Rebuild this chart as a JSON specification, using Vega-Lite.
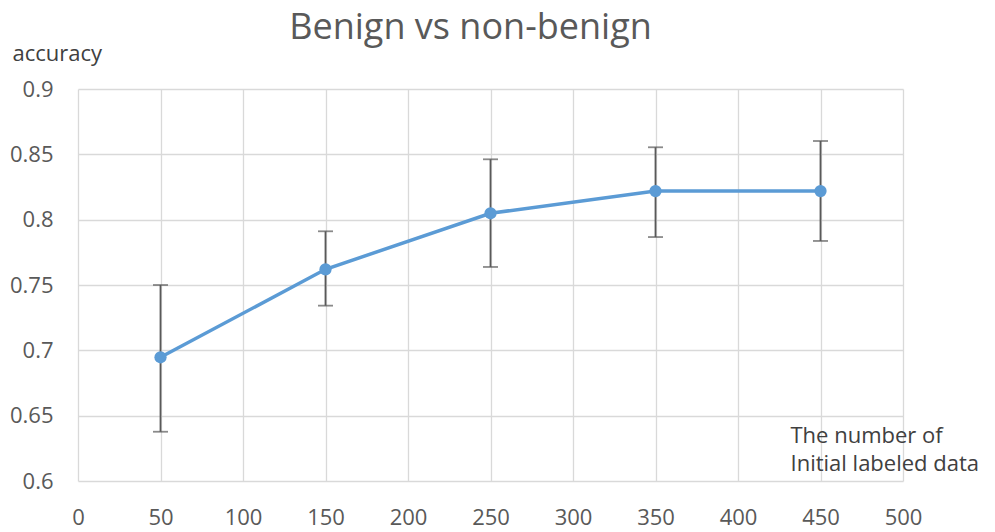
{
  "$schema": "https://vega.github.io/schema/vega-lite/v6.json",
  "width": 825,
  "height": 392,
  "autosize": {"type": "none"},
  "padding": {"left": 78, "top": 89, "right": 92, "bottom": 51},
  "background": "#ffffff",
  "config": {
    "view": {"stroke": null},
    "font": "Open Sans"
  },
  "title": {
    "text": "Benign vs non-benign",
    "anchor": "middle",
    "frame": "group",
    "dx": -20,
    "offset": -33,
    "baseline": "alphabetic",
    "fontSize": 36,
    "fontWeight": "normal",
    "color": "#595959",
    "font": "Open Sans"
  },
  "data": {
    "values": [
      {"n": 50, "acc": 0.6947, "lo": 0.6377, "hi": 0.7500},
      {"n": 150, "acc": 0.7620, "lo": 0.7342, "hi": 0.7911},
      {"n": 250, "acc": 0.8049, "lo": 0.7638, "hi": 0.8462},
      {"n": 350, "acc": 0.8219, "lo": 0.7867, "hi": 0.8554},
      {"n": 450, "acc": 0.8219, "lo": 0.7837, "hi": 0.8602}
    ]
  },
  "encoding": {
    "x": {
      "field": "n",
      "type": "quantitative",
      "scale": {"domain": [0, 500], "nice": false, "zero": false},
      "axis": {
        "values": [0, 50, 100, 150, 200, 250, 300, 350, 400, 450, 500],
        "domain": false,
        "ticks": false,
        "grid": true,
        "gridColor": "#d9d9d9",
        "gridWidth": 1.3,
        "labelFontSize": 22,
        "labelColor": "#595959",
        "labelBaseline": "alphabetic",
        "labelPadding": 43,
        "labelFlush": false,
        "labelOverlap": false,
        "labelFont": "Open Sans",
        "title": ["The number of", "Initial labeled data"],
        "titleFont": "Open Sans",
        "titleFontSize": 22,
        "titleFontWeight": "normal",
        "titleColor": "#404040",
        "titleAnchor": "start",
        "titleAlign": "left",
        "titleBaseline": "alphabetic",
        "titleX": 712,
        "titleY": -39,
        "titleLineHeight": 28.5
      }
    }
  },
  "layer": [
    {
      "mark": {"type": "rule", "color": "#595959", "strokeWidth": 1.8},
      "encoding": {
        "y": {
          "field": "lo",
          "type": "quantitative",
          "scale": {"domain": [0.6, 0.9], "nice": false, "zero": false},
          "axis": {
            "values": [0.6, 0.65, 0.7, 0.75, 0.8, 0.85, 0.9],
            "format": "~g",
            "domain": false,
            "ticks": false,
            "grid": true,
            "gridColor": "#d9d9d9",
            "gridWidth": 1.3,
            "labelFontSize": 22,
            "labelColor": "#595959",
            "labelPadding": 25,
            "labelFlush": false,
            "labelOverlap": false,
            "labelFont": "Open Sans",
            "title": "accuracy",
            "titleFont": "Open Sans",
            "titleFontSize": 22,
            "titleFontWeight": "normal",
            "titleColor": "#404040",
            "titleAngle": 0,
            "titleAlign": "left",
            "titleBaseline": "alphabetic",
            "titleAnchor": "end",
            "titleX": -66,
            "titleY": -29
          }
        },
        "y2": {"field": "hi"}
      }
    },
    {
      "mark": {"type": "tick", "color": "#595959", "size": 15, "thickness": 1.8, "orient": "horizontal"},
      "encoding": {"y": {"field": "lo", "type": "quantitative"}}
    },
    {
      "mark": {"type": "tick", "color": "#595959", "size": 15, "thickness": 1.8, "orient": "horizontal"},
      "encoding": {"y": {"field": "hi", "type": "quantitative"}}
    },
    {
      "mark": {"type": "line", "color": "#5B9BD5", "strokeWidth": 3.5},
      "encoding": {"y": {"field": "acc", "type": "quantitative"}}
    },
    {
      "mark": {"type": "point", "filled": true, "color": "#5B9BD5", "size": 150, "opacity": 1},
      "encoding": {"y": {"field": "acc", "type": "quantitative"}}
    }
  ]
}
